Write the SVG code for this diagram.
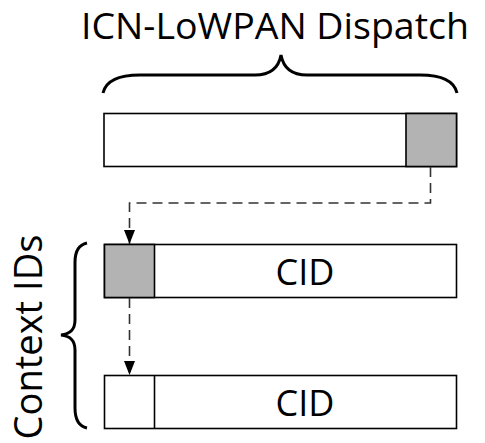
<svg xmlns="http://www.w3.org/2000/svg" width="485" height="443" viewBox="0 0 485 443">
<defs>
<style>
.box{fill:#fff;stroke:#000;stroke-width:1.6}
.gray{fill:#b3b3b3;stroke:#000;stroke-width:1.6}
.brace{fill:none;stroke:#000;stroke-width:3}
.dash{fill:none;stroke:#333;stroke-width:1.6;stroke-dasharray:10,6}
.lbl{font-family:"Open Sans","DejaVu Sans",sans-serif;fill:#000}
</style>
<marker id="arr" viewBox="0 0 14 11" refX="14" refY="5.5" markerWidth="14" markerHeight="11" markerUnits="userSpaceOnUse" orient="auto">
<path d="M0,0 L14,5.5 L0,11 z" fill="#000"/>
</marker>
</defs>
<g id="title">
<text class="lbl" x="275" y="39" font-size="37" text-anchor="middle" textLength="388" lengthAdjust="spacingAndGlyphs">ICN-LoWPAN Dispatch</text>
<path class="brace" d="M103,93 C106,80 120,75 140,75 L255,75 C272,75 279,66 281,55 C283,66 290,75 307,75 L420,75 C440,75 454,80 457,93"/>
</g>
<g id="dispatch">
<rect class="box" x="104" y="113.5" width="352.5" height="53"/>
<rect class="gray" x="406" y="113.5" width="50.5" height="53"/>
</g>
<g id="cid1">
<rect class="box" x="104.5" y="244.5" width="352" height="53"/>
<rect class="gray" x="104.5" y="244.5" width="50" height="53"/>
<text class="lbl" x="305" y="285" font-size="36" text-anchor="middle">CID</text>
</g>
<g id="cid2">
<rect class="box" x="104.5" y="375.5" width="352" height="53"/>
<line x1="154.5" y1="375.5" x2="154.5" y2="428.5" stroke="#000" stroke-width="1.6"/>
<text class="lbl" x="305" y="416" font-size="36" text-anchor="middle">CID</text>
</g>
<g id="context">
<text class="lbl" transform="translate(42,337) rotate(-90)" font-size="38" text-anchor="middle" textLength="205" lengthAdjust="spacingAndGlyphs">Context IDs</text>
<path class="brace" d="M87,243 C78,245 75,252 75,262 L75,320 C75,330 70,334 61,335 C70,336 75,340 75,350 L75,408 C75,418 78,426 87,428"/>
</g>
<g id="connectors">
<path class="dash" d="M430.5,167 L430.5,203 L129.5,203 L129.5,244" marker-end="url(#arr)"/>
<path class="dash" d="M129.5,298 L129.5,375" marker-end="url(#arr)"/>
</g>
</svg>
